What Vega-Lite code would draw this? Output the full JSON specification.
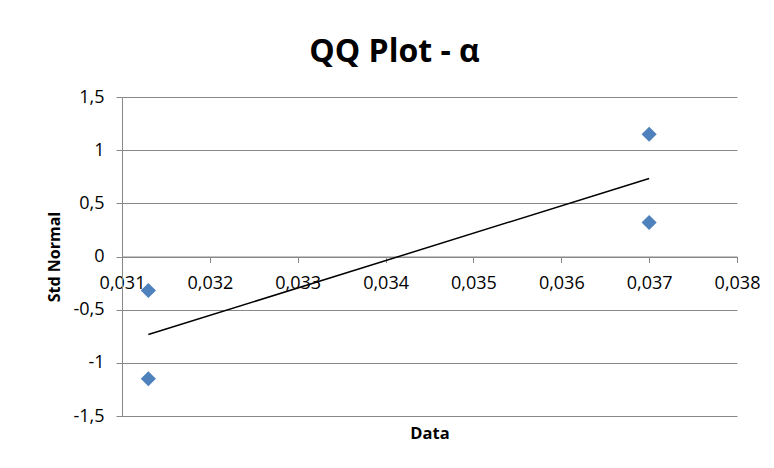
{
  "$schema": "https://vega.github.io/schema/vega-lite/v6.json",
  "width": 615,
  "height": 319,
  "autosize": {"type": "none"},
  "padding": {"left": 122, "top": 97, "right": 37, "bottom": 52},
  "background": "white",
  "config": {"view": {"stroke": null}, "font": "Open Sans"},
  "title": {
    "text": "QQ Plot - α",
    "fontSize": 32,
    "fontWeight": "bold",
    "font": "Open Sans",
    "color": "#000000",
    "anchor": "middle",
    "baseline": "alphabetic",
    "dx": -35,
    "dy": 6,
    "offset": 0
  },
  "datasets": {
    "points": [
      {"data": 0.0313, "std": -1.15},
      {"data": 0.0313, "std": -0.32},
      {"data": 0.037, "std": 0.32},
      {"data": 0.037, "std": 1.15}
    ],
    "trend": [
      {"data": 0.0313, "std": -0.734},
      {"data": 0.037, "std": 0.734}
    ]
  },
  "encoding": {
    "x": {
      "field": "data",
      "type": "quantitative",
      "scale": {"domain": [0.031, 0.038], "nice": false, "zero": false},
      "axis": {
        "title": "Data",
        "titleFontSize": 16.5,
        "titleFontWeight": "bold",
        "titleColor": "#000000",
        "titleBaseline": "middle",
        "titleY": 176.5,
        "offset": -159.5,
        "values": [0.031, 0.032, 0.033, 0.034, 0.035, 0.036, 0.037, 0.038],
        "labelExpr": "replace(format(datum.value, '.3f'), '.', ',')",
        "labelFontSize": 18,
        "labelColor": "#000000",
        "labelPadding": 12,
        "grid": false,
        "domainColor": "#888888",
        "tickColor": "#888888",
        "tickSize": 6,
        "labelFlush": false,
        "labelOverlap": false
      }
    },
    "y": {
      "field": "std",
      "type": "quantitative",
      "scale": {"domain": [-1.5, 1.5], "nice": false},
      "axis": {
        "title": "Std Normal",
        "titleFontSize": 16,
        "titleFontWeight": "bold",
        "titleColor": "#000000",
        "titlePadding": 10,
        "values": [-1.5, -1, -0.5, 0, 0.5, 1, 1.5],
        "labelExpr": "replace(toString(datum.value), '.', ',')",
        "labelFontSize": 18,
        "labelColor": "#000000",
        "labelPadding": 12,
        "grid": true,
        "gridColor": "#888888",
        "domainColor": "#888888",
        "tickColor": "#888888",
        "tickSize": 6,
        "labelFlush": false,
        "labelOverlap": false
      }
    }
  },
  "layer": [
    {
      "data": {"name": "trend"},
      "mark": {"type": "line", "color": "#000000", "strokeWidth": 1.5}
    },
    {
      "data": {"name": "points"},
      "mark": {"type": "point", "shape": "diamond", "filled": true, "size": 230, "color": "#4F81BD", "opacity": 1}
    }
  ]
}
